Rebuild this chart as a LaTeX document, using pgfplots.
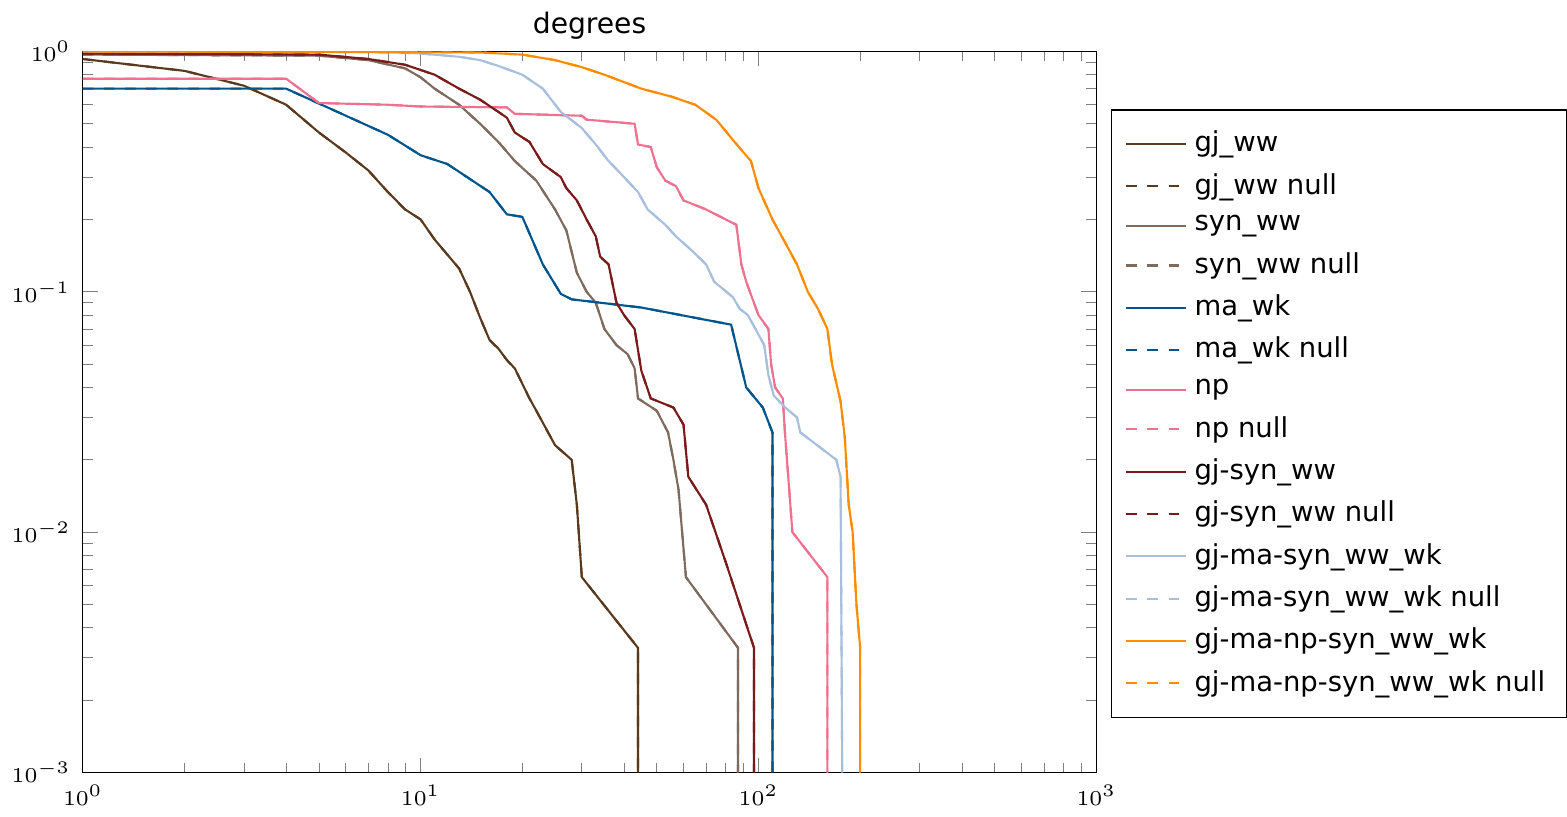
\documentclass[border=0pt]{standalone}
\usepackage{pgfplots}
\usepackage{pgfplotstable}
\pgfplotsset{compat=1.18}
\usepackage{fontspec}
\setmainfont{DejaVu Sans}
\definecolor{cA}{HTML}{5A3A1E}
\definecolor{cB}{HTML}{7F6A5E}
\definecolor{cC}{HTML}{00558C}
\definecolor{cD}{HTML}{F07090}
\definecolor{cE}{HTML}{7A1B1B}
\definecolor{cF}{HTML}{A7BFDD}
\definecolor{cG}{HTML}{FF8C00}
\pgfplotstableread{
x y
1 0.93
2 0.83
3 0.72
4 0.6
5 0.46
6 0.38
7 0.32
8 0.26
9 0.22
10 0.2
11 0.165
13 0.125
14 0.1
15 0.078
16 0.063
17 0.058
18 0.052
19 0.048
21 0.036
22 0.032
25 0.023
28 0.02
29 0.013
30 0.0065
44 0.0033
44 0.001
}\tA
\pgfplotstableread{
x y
1 0.97
5 0.96
7 0.92
9 0.85
10 0.78
11 0.7
13 0.6
15 0.5
17 0.42
19 0.35
22 0.29
25 0.22
27 0.18
29 0.12
31 0.1
33 0.09
35 0.07
38 0.06
41 0.055
43 0.048
44 0.036
50 0.032
54 0.026
56 0.02
58 0.015
61 0.0065
87 0.0033
87 0.001
}\tB
\pgfplotstableread{
x y
1 0.7
4 0.7
8 0.45
10 0.37
12 0.34
16 0.26
18 0.21
20 0.205
23 0.13
26 0.098
28 0.093
45 0.086
83 0.073
92 0.04
103 0.033
110 0.026
110 0.001
}\tC
\pgfplotstableread{
x y
1 0.77
4 0.77
5 0.61
8 0.6
10 0.59
18 0.585
19 0.55
30 0.54
31 0.52
43 0.5
44 0.41
48 0.4
50 0.33
53 0.29
57 0.275
60 0.24
70 0.22
80 0.2
86 0.19
89 0.13
92 0.11
100 0.08
107 0.07
109 0.05
112 0.04
118 0.036
120 0.025
126 0.01
160 0.0065
160 0.001
}\tD
\pgfplotstableread{
x y
1 0.98
5 0.97
7 0.93
9 0.88
11 0.8
13 0.7
15 0.63
17 0.56
18 0.53
19 0.46
21 0.42
23 0.34
26 0.3
27 0.27
29 0.24
31 0.2
33 0.17
34 0.14
36 0.13
38 0.09
40 0.08
43 0.07
45 0.047
48 0.036
56 0.033
60 0.028
62 0.017
70 0.013
80 0.0075
97 0.0033
97 0.001
}\tE
\pgfplotstableread{
x y
1 1
8 0.995
10 0.98
13 0.95
15 0.92
17 0.87
20 0.8
23 0.7
26 0.56
30 0.48
33 0.41
36 0.35
40 0.3
44 0.26
47 0.22
53 0.19
57 0.17
63 0.15
70 0.13
74 0.11
84 0.095
88 0.085
93 0.08
98 0.07
104 0.06
107 0.045
111 0.037
120 0.033
130 0.03
133 0.026
170 0.02
175 0.017
177 0.001
}\tF
\pgfplotstableread{
x y
1 1
15 0.99
20 0.97
25 0.92
30 0.86
35 0.8
45 0.7
55 0.65
65 0.6
75 0.52
85 0.42
95 0.35
100 0.27
110 0.2
120 0.16
130 0.13
140 0.1
150 0.085
160 0.07
165 0.05
175 0.035
180 0.025
185 0.013
190 0.01
195 0.005
200 0.0033
200 0.001
}\tG
\begin{document}
\begin{tikzpicture}
\begin{loglogaxis}[
  width=10.12cm, height=7.2cm, scale only axis,
  xmin=1, xmax=1000, ymin=0.001, ymax=1,
  title={degrees}, title style={font=\fontsize{8}{10}\selectfont, yshift=-6pt},
  tick label style={font=\fontsize{6.5}{8}\selectfont},
  legend style={at={(1.014,0.92)}, anchor=north west, draw=black,
    font=\fontsize{7.8}{11}\selectfont, row sep=0.6pt, inner sep=4pt},
  legend cell align=left,
  legend image post style={line width=0.6pt},
  every axis plot/.append style={line width=0.6pt},
]
\addplot[cA] table{\tA}; \addlegendentry{gj\_ww}
\addplot[cA,dashed] table{\tA}; \addlegendentry{gj\_ww null}
\addplot[cB] table{\tB}; \addlegendentry{syn\_ww}
\addplot[cB,dashed] table{\tB}; \addlegendentry{syn\_ww null}
\addplot[cC] table{\tC}; \addlegendentry{ma\_wk}
\addplot[cC,dashed] table{\tC}; \addlegendentry{ma\_wk null}
\addplot[cD] table{\tD}; \addlegendentry{np}
\addplot[cD,dashed] table{\tD}; \addlegendentry{np null}
\addplot[cE] table{\tE}; \addlegendentry{gj-syn\_ww}
\addplot[cE,dashed] table{\tE}; \addlegendentry{gj-syn\_ww null}
\addplot[cF] table{\tF}; \addlegendentry{gj-ma-syn\_ww\_wk}
\addplot[cF,dashed] table{\tF}; \addlegendentry{gj-ma-syn\_ww\_wk null}
\addplot[cG] table{\tG}; \addlegendentry{gj-ma-np-syn\_ww\_wk}
\addplot[cG,dashed] table{\tG}; \addlegendentry{gj-ma-np-syn\_ww\_wk null}
\end{loglogaxis}
\end{tikzpicture}
\end{document}
